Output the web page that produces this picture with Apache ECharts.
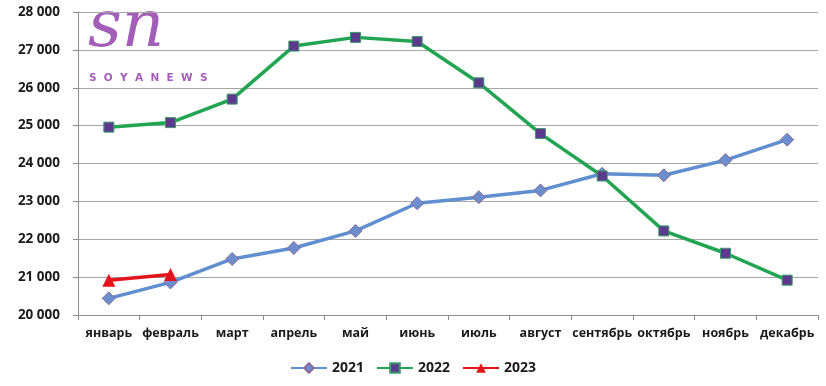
<!DOCTYPE html>
<html><head><meta charset="utf-8">
<script src="https://cdn.jsdelivr.net/npm/echarts@6/dist/echarts.min.js"></script>
<style>html,body{margin:0;padding:0;background:#fff}#c{width:826px;height:386px}</style>
</head><body><div id="c"></div>
<script>
var months = ['январь','февраль','март','апрель','май','июнь','июль','август','сентябрь','октябрь','ноябрь','декабрь'];
var s2021 = [20440, 20860, 21480, 21770, 22220, 22950, 23110, 23290, 23730, 23690, 24090, 24630];
var s2022 = [24960, 25080, 25700, 27100, 27330, 27220, 26130, 24790, 23670, 22220, 21630, 20920];
var s2023 = [20920, 21070];
var yMin = 20000, yMax = 28000, yStep = 1000;

var chart = echarts.init(document.getElementById('c'));
var font = '"Open Sans", Lato, sans-serif';
chart.setOption({
  animation: false,
  textStyle: {fontFamily: font},
  grid: {left: 78, right: 8, top: 12, bottom: 71},
  xAxis: {
    type: 'category', data: months, boundaryGap: true,
    axisLine: {lineStyle: {color: '#8c8c8c', width: 1}},
    axisTick: {show: true, length: 5, lineStyle: {color: '#8c8c8c'}},
    axisLabel: {color: '#1a1a1a', fontWeight: 'bold', fontSize: 12.5, fontFamily: font, margin: 12, interval: 0}
  },
  yAxis: {
    type: 'value', min: yMin, max: yMax, interval: yStep,
    axisLine: {show: true, lineStyle: {color: '#8c8c8c'}},
    axisTick: {show: true, length: 5, lineStyle: {color: '#8c8c8c'}},
    splitLine: {lineStyle: {color: '#a6a6a6', width: 1}},
    axisLabel: {color: '#1a1a1a', fontWeight: 'bold', fontSize: 13.5, fontFamily: font, margin: 18,
      formatter: function(v){ return String(v).replace(/\B(?=(\d{3})+(?!\d))/g, ' '); }}
  },
  legend: {
    bottom: 6, left: 'center', itemWidth: 36, itemHeight: 12, itemGap: 12,
    textStyle: {fontWeight: 'bold', fontSize: 14, color: '#1a1a1a', fontFamily: font},
    data: ['2021','2022','2023']
  },
  graphic: [
    {type: 'text', left: 88, top: -4, style: {text: 'sn', fontSize: 66, fontStyle: 'italic', fontFamily: '"DejaVu Serif", serif', fill: '#a35fb8'}},
    {type: 'text', left: 89, top: 73, style: {text: 'S  O  Y  A  N  E  W  S', fontSize: 10.5, fontWeight: 'bold', fontFamily: '"DejaVu Sans", sans-serif', fill: '#a35fb8'}}
  ],
  series: [
    {name: '2021', type: 'line', data: s2021, symbol: 'diamond', symbolSize: 13,
      lineStyle: {color: '#5f8fd0', width: 3.5}, itemStyle: {color: '#6a8fcc', borderColor: '#8a6a9a', borderWidth: 1}},
    {name: '2022', type: 'line', data: s2022, symbol: 'rect', symbolSize: 10,
      lineStyle: {color: '#22a552', width: 3.5}, itemStyle: {color: '#5b3a8e', borderColor: '#3a9a6a', borderWidth: 1}},
    {name: '2023', type: 'line', data: s2023, symbol: 'triangle', symbolSize: 13,
      lineStyle: {color: '#e3141c', width: 3.5}, itemStyle: {color: '#e3141c'}}
  ]
});
</script></body></html>
